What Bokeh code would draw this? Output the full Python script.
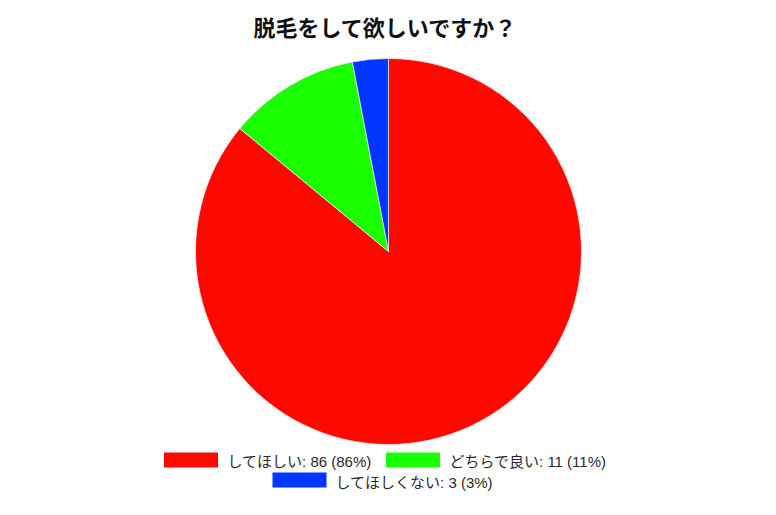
import numpy as np
from bokeh.plotting import figure
from bokeh.models import ColumnDataSource
from bokeh.core.properties import value
from bokeh.embed import file_html
from bokeh.resources import INLINE

# data
labels = ["してほしい", "どちらで良い", "してほしくない"]
counts = [86, 11, 3]
colors = ["#ff0800", "#1aff00", "#0036ff"]
title = "脱毛をして欲しいですか？"

W, H = 760, 499
FONT = "Liberation Sans, Noto Sans CJK JP"

total = sum(counts)
frac = np.array(counts) / total
cum = np.concatenate([[0], np.cumsum(frac)])
start = np.pi / 2 - cum[:-1] * 2 * np.pi
end = np.pi / 2 - cum[1:] * 2 * np.pi
legend_text = ["%s: %d (%d%%)" % (l, c, round(f * 100)) for l, c, f in zip(labels, counts, frac)]

src = ColumnDataSource(dict(start=start, end=end, color=colors, text=legend_text))

p = figure(width=W, height=H, x_range=(0, W), y_range=(0, H),
           output_backend="svg", toolbar_location=None, min_border=0)
p.axis.visible = False
p.grid.visible = False
p.outline_line_color = None

# pie
cx, cy, r = 388, H - 251, 193
p.wedge(x=cx, y=cy, radius=r, start_angle="start", end_angle="end", direction="clock",
        fill_color="color", line_color="#e8e8e8", line_width=0.8, source=src)

# title
p.text(x=[385], y=[H - 28], text=[title], text_font=value(FONT), text_font_style="bold",
       text_font_size="22px", text_align="center", text_baseline="middle", text_color="#111111")

# legend (manual, two rows centered)
sw_x = [190.5, 412.5, 299]   # swatch centers
sw_y = [H - 459.5, H - 459.5, H - 479.5]
tx_x = [227, 449, 335]
tx_y = [H - 461, H - 461, H - 482]
lsrc = ColumnDataSource(dict(sx=sw_x, sy=sw_y, tx=tx_x, ty=tx_y, color=colors, text=legend_text))
p.rect(x="sx", y="sy", width=54, height=15, fill_color="color", line_color=None, source=lsrc)
p.text(x="tx", y="ty", text="text", text_font=value(FONT), text_font_size="15px",
       text_baseline="middle", text_color="#2a2a2a", source=lsrc)

open("out.html", "w").write(file_html(p, INLINE))
